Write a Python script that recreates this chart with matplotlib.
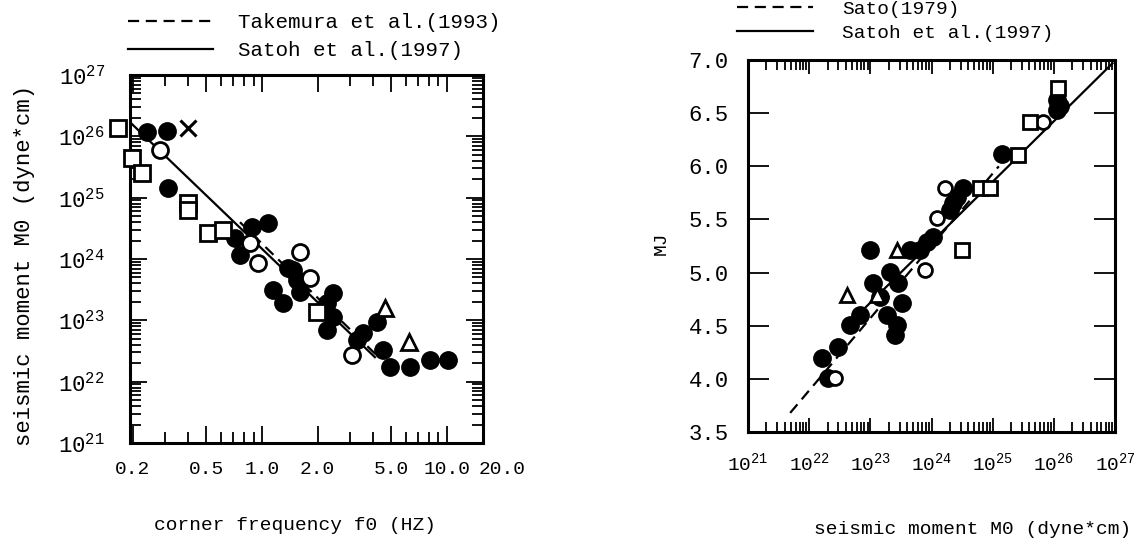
import matplotlib
matplotlib.use('Agg')
import matplotlib.pyplot as plt
from matplotlib.ticker import FixedLocator, LogLocator, NullFormatter, FixedFormatter

plt.rcParams['font.family'] = ['Liberation Mono', 'DejaVu Sans Mono']
plt.rcParams['mathtext.fontset'] = 'custom'
plt.rcParams['mathtext.rm'] = 'Liberation Mono'

# ---- left panel: corner frequency f0 (Hz) vs seismic moment M0 ----
sq_f = [0.167, 0.198, 0.225, 0.398, 0.398, 0.511, 0.615, 1.98]
sq_m = [1.38e26, 4.47e25, 2.51e25, 8.13e24, 6.31e24, 2.63e24, 2.95e24, 1.35e23]

oc_f = [0.281, 0.861, 0.951, 1.60, 1.82, 3.07]
oc_m = [6.03e25, 1.82e24, 8.51e23, 1.29e24, 4.90e23, 2.69e22]

fc_f = [0.239, 0.306, 0.310, 0.714, 0.883, 1.077, 0.760, 1.47, 1.55, 1.15, 1.30,
        1.60, 2.42, 2.24, 2.24, 2.42, 4.19, 3.51, 3.26, 4.51, 4.92, 6.31, 8.09,
        10.1, 1.38]
fc_m = [1.17e26, 1.23e26, 1.45e25, 2.19e24, 3.31e24, 3.89e24, 1.15e24, 6.61e23,
        4.57e23, 3.09e23, 1.91e23, 2.88e23, 2.75e23, 1.91e23, 6.92e22, 1.12e23,
        9.33e22, 6.17e22, 4.79e22, 3.24e22, 1.74e22, 1.74e22, 2.24e22, 2.24e22,
        7.08e23]

tri_f = [4.62, 6.23]
tri_m = [1.58e23, 4.37e22]

x_f = [0.398]
x_m = [1.38e26]

satoh_f = [0.198, 4.08]
satoh_m = [1.58e26, 2.51e22]
takemura_f = [0.76, 4.34]
takemura_m = [3.98e24, 2.40e22]

f_ticks = [0.2, 0.5, 1.0, 2.0, 5.0, 10.0]
f_labels = ['0.2', '0.5', '1.0', '2.0', '5.0', '10.0']

# ---- right panel: seismic moment M0 vs MJ ----
rsq_m = [1.17e26, 4.07e25, 2.57e25, 6.17e24, 8.91e24, 3.16e24]
rsq_mj = [6.74, 6.42, 6.11, 5.80, 5.80, 5.21]

roc_m = [6.61e25, 1.66e24, 1.23e24, 7.76e23, 2.63e22]
roc_mj = [6.42, 5.80, 5.51, 5.02, 4.01]

rfc_m = [1.12e26, 1.12e26, 1.26e26, 1.41e25, 3.24e24, 2.57e24, 2.24e24, 2.00e24,
         1.05e24, 8.32e23, 6.46e23, 4.47e23, 9.77e22, 2.09e23, 1.10e23, 2.82e23,
         1.45e23, 3.31e23, 1.86e23, 6.76e22, 4.68e22, 2.69e23, 2.51e23, 2.95e22,
         1.62e22, 2.04e22]
rfc_mj = [6.62, 6.53, 6.57, 6.12, 5.80, 5.71, 5.65, 5.59, 5.33, 5.29, 5.21, 5.21,
          5.21, 5.01, 4.90, 4.90, 4.77, 4.71, 4.60, 4.60, 4.51, 4.51, 4.41, 4.30,
          4.20, 4.01]

rtri_m = [2.69e23, 4.17e22, 1.29e23]
rtri_mj = [5.21, 4.79, 4.79]

sato_m = [4.9e21, 1.26e25]
sato_mj = [3.68, 6.0]
satoh2_m = [7.94e22, 9.12e26]
satoh2_mj = [4.66, 6.97]

mj_ticks = [3.5, 4.0, 4.5, 5.0, 5.5, 6.0, 6.5, 7.0]
m0_ticks = [1e21, 1e22, 1e23, 1e24, 1e25, 1e26, 1e27]

fig = plt.figure(figsize=(11.47, 5.44), dpi=100)
ax1 = fig.add_axes([130 / 1147, 101 / 544, 353 / 1147, 368 / 544])
ax2 = fig.add_axes([748 / 1147, 112 / 544, 367 / 1147, 372 / 544])

# left panel
l_tak, = ax1.plot(takemura_f, takemura_m, color='black', lw=1.6, ls=(0, (5, 3)), zorder=2)
l_sat, = ax1.plot(satoh_f, satoh_m, color='black', lw=1.6, zorder=2)
ax1.plot(fc_f, fc_m, 'o', ms=12.5, mfc='black', mec='black', zorder=3)
ax1.plot(oc_f, oc_m, 'o', ms=11.5, mfc='white', mec='black', mew=2, zorder=4)
ax1.plot(sq_f, sq_m, 's', ms=11, mfc='white', mec='black', mew=2, zorder=4, clip_on=False)
ax1.plot(tri_f, tri_m, '^', ms=11, mfc='white', mec='black', mew=2, zorder=4)
ax1.plot(x_f, x_m, 'x', ms=12, mec='black', mew=2.2, zorder=4)

ax1.set_xscale('log')
ax1.set_yscale('log')
ax1.set_xlim(0.193, 15.7)
ax1.set_ylim(1e21, 1e27)
ax1.xaxis.set_major_locator(FixedLocator(f_ticks))
ax1.xaxis.set_major_formatter(FixedFormatter(f_labels))
ax1.xaxis.set_minor_locator(LogLocator(base=10, subs=range(1, 10), numticks=20))
ax1.xaxis.set_minor_formatter(NullFormatter())
ax1.yaxis.set_major_locator(FixedLocator(m0_ticks))
ax1.yaxis.set_major_formatter(FixedFormatter([r'$\mathregular{10^{%d}}$' % e for e in range(21, 28)]))
ax1.yaxis.set_minor_locator(LogLocator(base=10, subs=range(2, 10), numticks=20))
ax1.yaxis.set_minor_formatter(NullFormatter())
ax1.tick_params(which='both', direction='in', top=True, right=True, width=1.3)
ax1.tick_params(which='major', length=12)
ax1.tick_params(which='minor', length=8)
ax1.tick_params(axis='x', labelsize=14, pad=13)
ax1.tick_params(axis='y', labelsize=16, pad=18)
ax1.text(20.0, -0.05, '20.0', transform=ax1.get_xaxis_transform(), ha='center', va='top',
         fontsize=14, clip_on=False)
for s in ax1.spines.values():
    s.set_linewidth(2.2)

ax1.legend([l_tak, l_sat], ['Takemura et al.(1993)', 'Satoh et al.(1997)'],
           loc='upper left', bbox_to_anchor=(128 / 1147, 1 - 13 / 544),
           bbox_transform=fig.transFigure, frameon=False, fontsize=15,
           handlelength=4.1, handletextpad=1.2, labelspacing=0.45,
           borderpad=0, borderaxespad=0)

fig.text(25 / 1147, 1 - 265 / 544, 'seismic moment M0 (dyne*cm)', rotation=90,
         ha='center', va='center', fontsize=16)
fig.text(295 / 1147, 1 - 525 / 544, 'corner frequency f0 (HZ)',
         ha='center', va='center', fontsize=14)

# right panel
l_sato, = ax2.plot(sato_m, sato_mj, color='black', lw=1.6, ls=(0, (5, 3)), zorder=2)
l_sat2, = ax2.plot(satoh2_m, satoh2_mj, color='black', lw=1.6, zorder=2)
ax2.plot(rfc_m, rfc_mj, 'o', ms=12.5, mfc='black', mec='black', zorder=3)
ax2.plot(roc_m, roc_mj, 'o', ms=10, mfc='white', mec='black', mew=2, zorder=4)
ax2.plot(rsq_m, rsq_mj, 's', ms=10, mfc='white', mec='black', mew=2, zorder=4)
ax2.plot(rtri_m, rtri_mj, '^', ms=10, mfc='white', mec='black', mew=2, zorder=4)

ax2.set_xscale('log')
ax2.set_xlim(1e21, 1e27)
ax2.set_ylim(3.5, 7.0)
ax2.xaxis.set_major_locator(FixedLocator(m0_ticks))
ax2.xaxis.set_major_formatter(FixedFormatter([r'$\mathregular{10^{%d}}$' % e for e in range(21, 28)]))
ax2.xaxis.set_minor_locator(LogLocator(base=10, subs=range(2, 10), numticks=20))
ax2.xaxis.set_minor_formatter(NullFormatter())
ax2.set_yticks(mj_ticks)
ax2.set_yticklabels(['%.1f' % v for v in mj_ticks])
ax2.tick_params(which='both', direction='in', top=True, right=True, width=1.3)
ax2.tick_params(axis='x', which='major', length=10, labelsize=14, pad=14)
ax2.tick_params(axis='x', which='minor', length=7)
ax2.tick_params(axis='y', which='major', length=15, labelsize=16, pad=14)
for s in ax2.spines.values():
    s.set_linewidth(2.2)

ax2.legend([l_sato, l_sat2], ['Sato(1979)', 'Satoh et al.(1997)'],
           loc='upper left', bbox_to_anchor=(737 / 1147, 1 + 0 / 544),
           bbox_transform=fig.transFigure, frameon=False, fontsize=14,
           handlelength=3.9, handletextpad=1.5, labelspacing=0.35,
           borderpad=0, borderaxespad=0)

fig.text(661 / 1147, 1 - 243 / 544, 'MJ', rotation=90, ha='center', va='center', fontsize=14)
fig.text(973 / 1147, 1 - 530 / 544, 'seismic moment M0 (dyne*cm)',
         ha='center', va='center', fontsize=14)

fig.savefig('out.png', dpi=100)
